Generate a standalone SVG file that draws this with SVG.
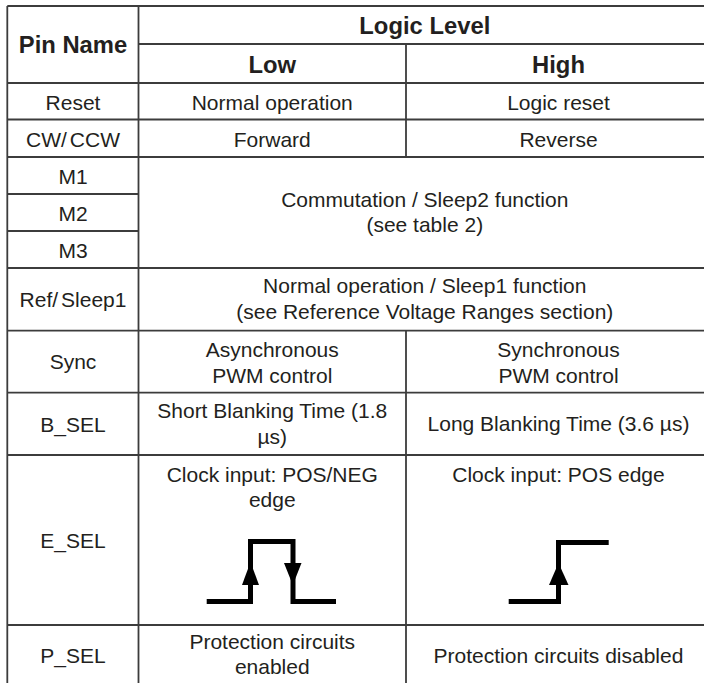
<svg xmlns="http://www.w3.org/2000/svg" width="704" height="683" viewBox="0 0 704 683">
<style>
.g{stroke:#3c3c3c;stroke-width:1.8;fill:none}
.t{font-family:"Liberation Sans",Arial,sans-serif;font-size:21px;fill:#231f20;text-anchor:middle}
.b{font-family:"Liberation Sans",Arial,sans-serif;font-size:23.8px;font-weight:bold;fill:#231f20;text-anchor:middle}
.w{stroke:#000;stroke-width:5;fill:none;stroke-linejoin:miter}
.a{fill:#000}
</style>
<rect width="704" height="683" fill="#fff"/>
<g id="grid" class="g">
<path d="M7.3,6H704M138.5,44H704M7.3,83H704M7.3,119.5H704M7.3,157H704M7.3,194H138.5M7.3,231H138.5M7.3,268H704M7.3,330.7H704M7.3,392.7H704M7.3,455H704M7.3,625H704"/>
<path d="M7.3,6V683M138.5,6V683M406,44V157M406,330.7V683"/>
</g>
<g id="header">
<text class="b" x="73" y="52.7">Pin Name</text>
<text class="b" x="424.8" y="34">Logic Level</text>
<text class="b" x="272.25" y="73">Low</text>
<text class="b" x="558.5" y="73">High</text>
</g>
<g id="row-reset">
<text class="t" x="73" y="109.5">Reset</text>
<text class="t" x="272.25" y="109.5">Normal operation</text>
<text class="t" x="558.5" y="109.5">Logic reset</text>
</g>
<g id="row-cwccw">
<text class="t" x="73" y="146.5">CW/<tspan dx="3">CCW</tspan></text>
<text class="t" x="272.25" y="146.5">Forward</text>
<text class="t" x="558.5" y="146.5">Reverse</text>
</g>
<g id="row-m">
<text class="t" x="73" y="183.5">M1</text>
<text class="t" x="73" y="220.5">M2</text>
<text class="t" x="73" y="257.5">M3</text>
<text class="t" x="424.8" y="206.5">Commutation / Sleep2 function</text>
<text class="t" x="424.8" y="232.3">(see table 2)</text>
</g>
<g id="row-ref">
<text class="t" x="73" y="307">Ref/<tspan dx="3">Sleep1</tspan></text>
<text class="t" x="424.8" y="293.3">Normal operation / Sleep1 function</text>
<text class="t" x="424.8" y="319.3">(see Reference Voltage Ranges section)</text>
</g>
<g id="row-sync">
<text class="t" x="73" y="369">Sync</text>
<text class="t" x="272.25" y="356.5">Asynchronous</text>
<text class="t" x="272.25" y="382.5">PWM control</text>
<text class="t" x="558.5" y="356.5">Synchronous</text>
<text class="t" x="558.5" y="382.5">PWM control</text>
</g>
<g id="row-bsel">
<text class="t" x="73" y="431.5">B_SEL</text>
<text class="t" x="272.25" y="418.3">Short Blanking Time (1.8</text>
<text class="t" x="272.25" y="443.5">µs)</text>
<text class="t" x="558.5" y="431">Long Blanking Time (3.6 µs)</text>
</g>
<g id="row-esel">
<text class="t" x="73" y="548">E_SEL</text>
<text class="t" x="272.25" y="481.5">Clock input: POS/NEG</text>
<text class="t" x="272.25" y="506.5">edge</text>
<text class="t" x="558.5" y="481.5">Clock input: POS edge</text>
<path class="w" d="M206.7,601.5H250.5V541.5H293V601.5H336"/>
<polygon class="a" points="250.5,562 242,585 259,585"/>
<polygon class="a" points="284,563 301.5,563 292.8,585"/>
<path class="w" d="M508.7,601.5H558.5V542.5H608.7"/>
<polygon class="a" points="558.5,563 549,585 568.5,585"/>
</g>
<g id="row-psel">
<text class="t" x="73" y="662.7">P_SEL</text>
<text class="t" x="272.25" y="648.5">Protection circuits</text>
<text class="t" x="272.25" y="673.5">enabled</text>
<text class="t" x="558.5" y="662.7">Protection circuits disabled</text>
</g>
</svg>
